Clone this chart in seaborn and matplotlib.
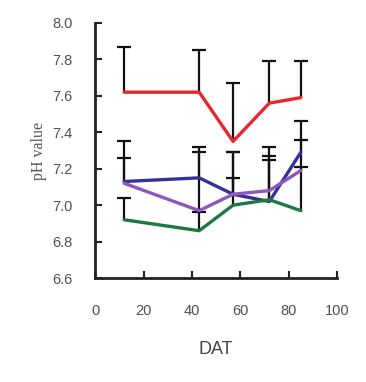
import pandas as pd
import numpy as np
import matplotlib.pyplot as plt
import seaborn as sns

# days after transplanting
dat = [12, 43, 57, 72, 85]

red = [7.62, 7.62, 7.35, 7.56, 7.59]
blue = [7.13, 7.15, 7.06, 7.02, 7.29]
purple = [7.12, 6.97, 7.06, 7.08, 7.19]
green = [6.92, 6.86, 7.00, 7.03, 6.97]

# upper error bar tops (only upper half is shown)
red_top = [7.87, 7.85, 7.67, 7.79, 7.79]
blue_top = [7.35, 7.32, 7.29, 7.32, 7.46]
purple_top = [7.26, 7.29, 7.29, 7.27, 7.36]
green_top = [7.04, 6.96, 7.15, 7.25, 7.21]

series = {'red': red, 'blue': blue, 'purple': purple, 'green': green}
tops = {'red': red_top, 'blue': blue_top, 'purple': purple_top, 'green': green_top}
colors = {'red': '#e8262b', 'blue': '#34329a', 'purple': '#8e57bd', 'green': '#1c7a40'}

rows = []
for name, vals in series.items():
    for d, v in zip(dat, vals):
        rows.append({'DAT': d, 'pH': v, 'treat': name})
df = pd.DataFrame(rows)

sns.set_style('ticks')
fig = plt.figure(figsize=(3.66, 3.82), dpi=100)
ax = fig.add_axes([0.26, 0.272, 0.661, 0.668])

# upper error bars only: stem + cap at top
for name, vals in series.items():
    ax.vlines(dat, vals, tops[name], color='#111111', linewidth=1.6, zorder=2)
    ax.plot(dat, tops[name], linestyle='none', marker='_', markersize=10,
            markeredgewidth=1.6, color='#111111', zorder=2)

sns.lineplot(data=df, x='DAT', y='pH', hue='treat', palette=colors,
             linewidth=2.4, legend=False, ax=ax, zorder=3)

ax.set_xlim(0, 100)
ax.set_ylim(6.6, 8.0)
ax.set_xticks(np.arange(0, 101, 20))
ax.set_yticks(np.arange(6.6, 8.01, 0.2))
ax.set_yticklabels(['%.1f' % v for v in np.arange(6.6, 8.01, 0.2)])
ax.tick_params(direction='in', length=5, width=1.5, color='#222222',
               labelsize=10.5, labelcolor='#505050')
ax.tick_params(axis='x', pad=19)
ax.tick_params(axis='y', pad=16)
for lab in ax.get_xticklabels() + ax.get_yticklabels():
    lab.set_family('Liberation Sans')

for s in ['left', 'bottom']:
    ax.spines[s].set_linewidth(2)
    ax.spines[s].set_color('#222222')
sns.despine(ax=ax)

ax.set_xlabel('DAT', fontsize=13, color='#444444', family='Liberation Sans', labelpad=16)
ax.set_ylabel('pH value', fontsize=11.5, color='#555555', family='Liberation Serif', labelpad=4)

fig.savefig('out.png', dpi=100)
